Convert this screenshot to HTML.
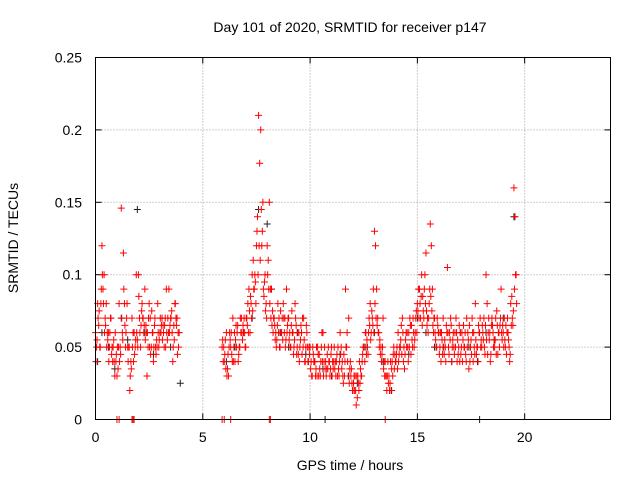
<!DOCTYPE html>
<html><head><meta charset="utf-8"><style>
html,body{margin:0;padding:0;background:#fff;}
svg{display:block;font-family:"Liberation Sans",sans-serif;}
</style></head><body>
<svg id="chart" width="640" height="480" viewBox="0 0 640 480" xmlns="http://www.w3.org/2000/svg">
<rect x="0" y="0" width="640" height="480" fill="#fff"/>
<text x="350" y="32" font-size="14" text-anchor="middle">Day 101 of 2020, SRMTID for receiver p147</text>
<text x="350" y="470" font-size="14" text-anchor="middle">GPS time / hours</text>
<text x="0" y="0" font-size="14" text-anchor="middle" transform="translate(18,238) rotate(-90)">SRMTID / TECUs</text>
<g id="grid"></g>
<g id="ticks"></g>
<g id="black-series"></g>
<g id="red-series"></g>
<rect x="95.5" y="57.5" width="515" height="362" fill="none" stroke="#000" stroke-width="1"/>
</svg>
<script>
const xTicks = [0,5,10,15,20];
const yTicks = [0,0.05,0.1,0.15,0.2,0.25];
const yTickLabels = ["0","0.05","0.1","0.15","0.2","0.25"];
// segment sample start hours and step (GPS epochs)
const redSegStarts = [0.0, 0.02, 0.05, 0.07, 5.9, 5.95, 5.925, 5.975];
const redSegStep = [0.1, 0.1, 0.1, 0.1, 0.1, 0.1, 0.1, 0.1];
const redSegA1 = [.06,.08,.05,.12,.1,.08,.06,.07,.04,.03,.03,.08,.146,.115,.05,.05,.02,.07,.06,.1,.1,.05,.07,.09,.03,.08,.05,.04,.05,.08,.06,.07,.05,.09,.06,.07,.04,.08,.07,.06];
const redSegA2 = [.04,.07,.05,.1,.06,.05,.04,.07,.05,.06,.05,.04,.07,.09,.06,.04,.03,.05,.045,.06,.085,.065,.07,.055,.06,.05,.075,.05,.045,.06,.07,.055,.065,.06,.09,.07,.05,.08,.045];
const redSegA3 = [.05,.065,.08,.09,.07,.06,.05,.045,.055,.04,.035,.05,.06,.08,.07,.05,.04,.06,.05,.055,.07,.075,.06,.065,.05,.07,.06,.065,.055,.05,.06,.065,.07,.055,.06,.075,.065,.07,.06];
const redSegA4 = [.055,.075,.09,.08,.065,.055,.06,.05,.04,.045,.05,.045,.055,.065,.08,.05,.035,.04,.055,.05,.06,.08,.065,.06,.07,.045,.06,.07,.05,.055,.065,.06,.05,.07,.065,.06,.055,.065,.05];
const redSegB1 = [.05,.04,.06,.03,.05,.07,.04,.06,.05,.07,.06,.05,.08,.06,.1,.09,.12,.21,.2,.15,.1,.12,.15,.09,.07,.06,.08,.05,.07,.06,.09,.07,.05,.06,.08,.05,.04,.06,.07,.05,.04,.05,.03,.04,.05,.03,.04,.06,.035,.045,.04,.05,.04,.03,.05,.06,.04,.03,.05,.07,.03,.02,.03,.015,.04,.03,.05,.06,.045,.08,.07,.13,.09,.06,.05,.07,.04,.03,.02,.035,.05,.04,.06,.05,.07,.035,.05,.06,.045,.07,.06,.08,.09,.1,.07,.115,.06,.135,.09,.07,.05,.06,.04,.07,.05,.105,.06,.04,.05,.07,.045,.06,.04,.05,.07,.035,.055,.04,.08,.05,.06,.05,.07,.1,.06,.04,.065,.05,.075,.06,.09,.06,.05,.07,.04,.085,.16,.1];
const redSegB2 = [.04,.055,.035,.06,.045,.05,.065,.04,.07,.055,.06,.07,.09,.08,.11,.095,.14,.177,.12,.085,.08,.11,.09,.075,.065,.055,.07,.06,.08,.05,.065,.06,.075,.05,.065,.045,.055,.07,.04,.06,.05,.04,.045,.03,.05,.035,.06,.04,.03,.05,.035,.04,.035,.045,.03,.05,.025,.09,.04,.035,.025,.03,.01,.025,.035,.045,.04,.055,.07,.06,.09,.12,.07,.055,.045,.04,.03,.025,.04,.03,.045,.05,.045,.065,.04,.055,.05,.07,.055,.05,.075,.09,.07,.085,.1,.065,.08,.12,.06,.055,.065,.05,.055,.045,.065,.05,.07,.055,.06,.04,.065,.05,.065,.045,.06,.04,.07,.05,.045,.065,.05,.06,.045,.08,.055,.065,.05,.07,.045,.065,.055,.07,.045,.055,.08,.065,.14];
const redSegB3 = [.055,.045,.03,.05,.06,.04,.055,.065,.05,.06,.07,.07,.06,.085,.075,.1,.13,.12,.145,.09,.075,.1,.08,.065,.07,.05,.06,.075,.055,.07,.06,.055,.065,.045,.07,.06,.05,.045,.055,.065,.04,.035,.05,.04,.03,.045,.05,.03,.04,.035,.03,.03,.05,.04,.035,.045,.03,.04,.06,.025,.035,.025,.02,.03,.025,.04,.05,.045,.06,.055,.065,.08,.065,.05,.04,.035,.03,.04,.025,.04,.035,.045,.04,.055,.06,.045,.06,.05,.065,.06,.07,.075,.08,.065,.09,.075,.07,.085,.065,.06,.07,.045,.06,.05,.04,.06,.055,.05,.045,.06,.05,.045,.055,.06,.05,.065,.045,.06,.055,.04,.07,.065,.05,.055,.07,.045,.06,.055,.065,.05,.06,.05,.065,.06,.045,.07,.09,.08];
const redSegB4 = [.05,.035,.045,.055,.04,.06,.05,.045,.06,.065,.05,.065,.075,.07,.09,.08,.1,.11,.13,.095,.07,.09,.07,.06,.055,.065,.05,.06,.07,.055,.07,.05,.06,.055,.045,.06,.065,.05,.04,.05,.045,.03,.04,.035,.045,.03,.04,.05,.035,.04,.045,.035,.04,.03,.04,.035,.045,.05,.03,.04,.02,.02,.03,.02,.03,.05,.06,.05,.065,.075,.06,.07,.06,.045,.05,.03,.02,.03,.02,.045,.04,.035,.05,.045,.05,.06,.04,.065,.05,.055,.06,.07,.085,.075,.08,.07,.09,.075,.07,.05,.06,.06,.045,.055,.06,.045,.065,.06,.05,.055,.04,.06,.05,.04,.055,.05,.06,.045,.05,.06,.055,.055,.065,.045,.06,.07,.055,.045,.06,.07,.065,.055,.06,.05,.065,.075,.1];
const redZeroTimes = [1.0,1.1,1.7,1.75,1.8,5.9,6.0,6.3,8.1,8.15,13.5];
const blackTimes = [0.1,0.3,0.6,0.9,1.2,1.5,1.95,2.3,2.7,3.1,3.5,3.95,6.1,6.5,6.9,7.3,7.6,8.0,8.2,8.6,9.0,9.4,9.8,10.2,10.6,11.0,11.4,11.8,12.2,12.6,13.0,13.4,13.8,14.2,14.6,15.0,15.4,15.8,16.2,16.6,17.0,17.4,17.8,18.2,18.6,19.0,19.5];
const blackValues = [.04,.06,.05,.035,.07,.055,.145,.06,.045,.07,.05,.025,.04,.05,.06,.07,.145,.135,.09,.06,.05,.06,.045,.04,.035,.03,.045,.03,.025,.05,.06,.04,.02,.05,.045,.07,.06,.05,.05,.04,.06,.05,.04,.06,.055,.07,.14];
const blackZeroTimes = [10.7,17.9];

const X0=95.5, X1=610.5, Y0=419.5, Y1=57.5;
const xs = t => X0 + t/24*(X1-X0);
const ys = v => Y0 - v/0.25*(Y0-Y1);
const NS="http://www.w3.org/2000/svg";
function mk(tag, attrs, parent){const e=document.createElementNS(NS,tag);for(const k in attrs)e.setAttribute(k,attrs[k]);parent.appendChild(e);return e;}
const grid=document.getElementById('grid'), ticks=document.getElementById('ticks');
xTicks.forEach(t=>{
  const x=xs(t);
  if(t>0){const g=mk('line',{x1:x,y1:Y0,x2:x,y2:Y1,stroke:'#a0a0a0','stroke-dasharray':'1,2'},grid);
  
  }
  mk('line',{x1:x,y1:Y0,x2:x,y2:Y0-6,stroke:'#000'},ticks);
  mk('line',{x1:x,y1:Y1,x2:x,y2:Y1+6,stroke:'#000'},ticks);
  const l=mk('text',{x:x,y:442,'font-size':14,'text-anchor':'middle'},ticks);
  l.textContent=String(t);
  
  
});
yTicks.forEach((v,i)=>{
  const y=ys(v);
  if(v>0&&v<0.25){const g=mk('line',{x1:X0,y1:y,x2:X1,y2:y,stroke:'#a0a0a0','stroke-dasharray':'1,2'},grid);
  
  }
  mk('line',{x1:X0,y1:y,x2:X0+6,y2:y,stroke:'#000'},ticks);
  mk('line',{x1:X1,y1:y,x2:X1-6,y2:y,stroke:'#000'},ticks);
  const l=mk('text',{x:82,y:y+5,'font-size':14,'text-anchor':'end'},ticks);
  l.textContent=yTickLabels[i];
  
  
});
function plus(t,v,color,parent){
  const x=xs(t), y=ys(v);
  const p=mk('path',{d:`M${x-3.5},${y}H${x+3.5}M${x},${y-3.5}V${y+3.5}`,stroke:color,'stroke-width':1,fill:'none'},parent);
  
  
}
const bg=document.getElementById('black-series'), rg=document.getElementById('red-series');
blackTimes.forEach((t,i)=>plus(t,blackValues[i],'#202020',bg));
blackZeroTimes.forEach(t=>plus(t,0,'#202020',bg));
[redSegA1,redSegA2,redSegA3,redSegA4,redSegB1,redSegB2,redSegB3,redSegB4].forEach((vals,s)=>{
  vals.forEach((v,i)=>plus(redSegStarts[s]+i*redSegStep[s],v,'#ff0000',rg));
});
redZeroTimes.forEach(t=>plus(t,0,'#ff0000',rg));
</script>
</body></html>
